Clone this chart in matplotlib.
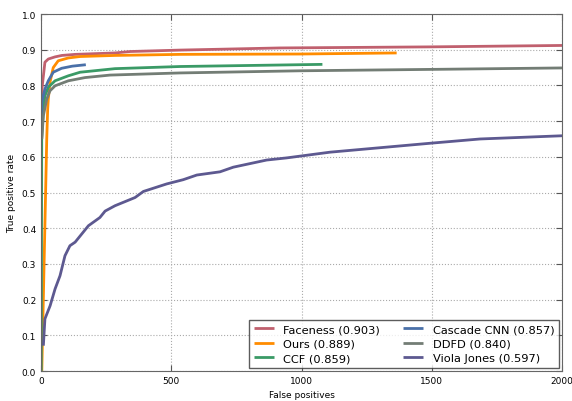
import matplotlib
matplotlib.use("Agg")
import matplotlib.pyplot as plt

# ROC curves (false positives, true positive rate)
faceness_fp = [1, 5, 15, 28, 54, 80, 131, 284, 342, 534, 726, 917, 1109, 1493, 2000]
faceness_tpr = [0.74, 0.80, 0.865, 0.874, 0.880, 0.884, 0.887, 0.891, 0.895, 0.899, 0.902, 0.905, 0.906, 0.908, 0.912]

ours_fp = [3, 22, 25.6, 28, 34.5, 47, 66, 105, 150, 284, 534, 994, 1365]
ours_tpr = [0.0, 0.65, 0.734, 0.762, 0.809, 0.850, 0.869, 0.877, 0.881, 0.884, 0.887, 0.888, 0.891]

ccf_fp = [1, 2, 2.7, 9, 15, 28, 54, 105, 150, 284, 534, 1080]
ccf_tpr = [0.0, 0.40, 0.65, 0.734, 0.771, 0.795, 0.813, 0.827, 0.837, 0.847, 0.853, 0.859]

cascade_fp = [1, 2.6, 15, 28, 47, 79, 120, 172]
cascade_tpr = [0.70, 0.753, 0.790, 0.813, 0.837, 0.848, 0.854, 0.858]

ddfd_fp = [3, 9, 22, 34.5, 54, 105, 169, 265, 534, 994, 1505, 2000]
ddfd_tpr = [0.65, 0.715, 0.762, 0.785, 0.799, 0.813, 0.822, 0.829, 0.835, 0.841, 0.845, 0.849]

vj_fp = [9, 15, 35, 54, 73, 92, 111, 131, 182, 226, 246, 284, 361, 393, 482,
         546, 598, 687, 738, 866, 943, 1109, 1493, 1685, 2000]
vj_tpr = [0.071, 0.146, 0.183, 0.230, 0.267, 0.323, 0.351, 0.361, 0.407, 0.430, 0.448, 0.463,
          0.486, 0.503, 0.524, 0.536, 0.549, 0.558, 0.571, 0.591, 0.597, 0.613, 0.638, 0.650, 0.659]

labels = ["Faceness (0.903)", "Ours (0.889)", "CCF (0.859)",
          "Cascade CNN (0.857)", "DDFD (0.840)", "Viola Jones (0.597)"]
colors = ["#c0606e", "#ff8c00", "#3a9a66", "#4a70a8", "#737d75", "#5d5990"]

fig = plt.figure(figsize=(5.72, 4.02), dpi=100)
ax = fig.add_axes([0.0717, 0.0746, 0.911, 0.888])

curves = [(faceness_fp, faceness_tpr), (ours_fp, ours_tpr), (ccf_fp, ccf_tpr),
          (cascade_fp, cascade_tpr), (ddfd_fp, ddfd_tpr), (vj_fp, vj_tpr)]
for (x, y), lab, c in zip(curves, labels, colors):
    ax.plot(x, y, color=c, lw=2, label=lab, solid_capstyle="butt")

ax.set_xlim(0, 2000)
ax.set_ylim(0, 1.0)
ax.set_xticks([0, 500, 1000, 1500, 2000])
ax.set_yticks([i / 10 for i in range(11)])
ax.set_xlabel("False positives", fontsize=6.5)
ax.set_ylabel("True positive rate", fontsize=6.5)
ax.tick_params(labelsize=6.5, direction="in", top=True, right=True, length=4, color="#555555")
ax.grid(True, linestyle=":", color="#aaaaaa", lw=0.8)
for s in ax.spines.values():
    s.set_color("#666666")

leg = ax.legend(loc="lower right", ncol=2, fontsize=8.2, fancybox=False,
                borderaxespad=0.3, handlelength=1.8, columnspacing=2.0, labelspacing=0.38)
leg.get_frame().set_edgecolor("#333333")

fig.savefig("out.png", dpi=100)
